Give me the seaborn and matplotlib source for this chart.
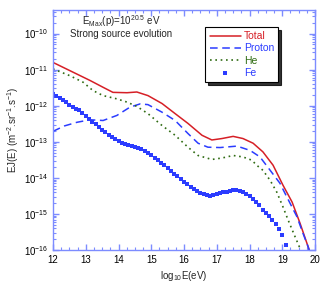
import numpy as np
import pandas as pd
import matplotlib
matplotlib.use("Agg")
import matplotlib.pyplot as plt
import seaborn as sns
from matplotlib.ticker import FixedLocator, MultipleLocator, NullFormatter

# values (log10 E, log10 flux)
total_x = [12.0, 12.52, 13.13, 13.53, 13.83, 14.26, 14.56, 14.9, 15.33, 15.73, 16.12, 16.55, 16.85,
           17.16, 17.5, 17.8, 18.11, 18.41, 18.72, 19.02, 19.3, 19.54, 19.79, 19.86]
total_y = [-10.8, -11.03, -11.3, -11.49, -11.63, -11.64, -11.62, -11.72, -11.94, -12.22, -12.49, -12.82, -12.95,
           -12.91, -12.85, -12.91, -13.04, -13.28, -13.65, -14.2, -14.67, -15.25, -15.91, -16.1]

proton_x = [12.0, 12.35, 12.73, 13.13, 13.53, 13.95, 14.35, 14.66, 14.9, 15.33, 15.73, 16.12, 16.43, 16.73,
            17.1, 17.62, 18.02, 18.32, 18.63, 18.93, 19.14, 19.45, 19.63, 19.79, 19.86]
proton_y = [-12.71, -12.56, -12.46, -12.39, -12.41, -12.27, -12.04, -11.95, -11.97, -12.18, -12.41, -12.77, -13.04, -13.15,
            -13.16, -13.12, -13.24, -13.42, -13.79, -14.15, -14.53, -15.08, -15.53, -15.91, -16.1]

he_x = [12.0, 12.52, 12.92, 13.22, 13.53, 13.95, 14.26, 14.56, 14.9, 15.33, 15.73, 16.12, 16.43, 16.85,
        17.16, 17.5, 17.8, 18.07, 18.22, 18.41, 18.63, 18.83, 19.02, 19.18, 19.39, 19.54, 19.58]
he_y = [-10.98, -11.17, -11.35, -11.58, -11.72, -11.81, -11.9, -12.02, -12.22, -12.55, -12.82, -13.15, -13.38, -13.49,
        -13.45, -13.38, -13.42, -13.51, -13.65, -13.79, -14.07, -14.39, -14.8, -15.17, -15.63, -15.95, -16.1]

fe_x = [12.0, 12.1, 12.2, 12.3, 12.4, 12.5, 12.6, 12.7, 12.8, 12.9, 13.0, 13.1, 13.2, 13.3, 13.4, 13.5,
        13.6, 13.7, 13.8, 13.9, 14.0, 14.1, 14.2, 14.3, 14.4, 14.5, 14.6, 14.7, 14.8, 14.9, 15.0, 15.1,
        15.2, 15.3, 15.4, 15.5, 15.6, 15.7, 15.8, 15.9, 16.0, 16.1, 16.2, 16.3, 16.4, 16.5, 16.6, 16.7,
        16.8, 16.9, 17.0, 17.1, 17.2, 17.3, 17.4, 17.5, 17.6, 17.7, 17.8, 17.9, 18.0, 18.1, 18.2, 18.3,
        18.4, 18.5, 18.6, 18.7, 18.8, 18.9, 19.0, 19.1]
fe_y = [-11.67, -11.73, -11.79, -11.85, -11.91, -11.97, -12.03, -12.08, -12.13, -12.2, -12.28, -12.36,
        -12.45, -12.52, -12.59, -12.66, -12.74, -12.8, -12.86, -12.92, -12.98, -13.03, -13.07, -13.1,
        -13.13, -13.15, -13.17, -13.2, -13.25, -13.31, -13.37, -13.44, -13.51, -13.58, -13.65, -13.72,
        -13.8, -13.88, -13.96, -14.04, -14.11, -14.18, -14.25, -14.32, -14.37, -14.42, -14.46, -14.48,
        -14.49, -14.48, -14.46, -14.43, -14.4, -14.38, -14.36, -14.35, -14.35, -14.36, -14.39, -14.44,
        -14.51, -14.59, -14.66, -14.76, -14.88, -14.98, -15.06, -15.16, -15.28, -15.42, -15.58, -15.85]

RED = "#d61f26"
BLUE = "#2b3cff"
GREEN = "#2f6b12"
AXBLUE = "#7d8cff"

sns.set_style("ticks")
plt.rcParams["font.family"] = ["Liberation Sans", "DejaVu Sans"]
plt.rcParams["mathtext.fontset"] = "custom"
plt.rcParams["mathtext.rm"] = "Liberation Sans"
plt.rcParams["mathtext.it"] = "Liberation Sans"

fig = plt.figure(figsize=(3.27, 2.92), dpi=100)
ax = fig.add_axes([53 / 327, 1 - 250 / 292, 262 / 327, 240 / 292])

sns.lineplot(x=total_x, y=10 ** np.array(total_y), color=RED, lw=1.1, ax=ax, label="Total")
sns.lineplot(x=proton_x, y=10 ** np.array(proton_y), color=BLUE, lw=1.1, ax=ax, label="Proton")
ax.lines[-1].set_dashes([5, 3])
sns.lineplot(x=he_x, y=10 ** np.array(he_y), color=GREEN, lw=1.2, ax=ax, label="He")
ax.lines[-1].set_linestyle((0, (1, 2.2)))
sns.scatterplot(x=fe_x, y=10 ** np.array(fe_y), color=BLUE, marker="s", s=11, linewidth=0,
                ax=ax, label="Fe")

ax.set_yscale("log")
ax.set_xlim(12, 20)
ax.set_ylim(1e-16, 4.5e-10)
ax.xaxis.set_major_locator(MultipleLocator(1))
ax.xaxis.set_minor_locator(MultipleLocator(0.25))
decades = np.arange(-16, -9)
ax.yaxis.set_major_locator(FixedLocator(10.0 ** decades))
minors = [m * 10.0 ** d for d in decades for m in range(2, 10) if m * 10.0 ** d < 4.5e-10]
ax.yaxis.set_minor_locator(FixedLocator(minors))
ax.yaxis.set_minor_formatter(NullFormatter())

for s in ax.spines.values():
    s.set_color(AXBLUE)
    s.set_linewidth(1.0)
ax.tick_params(which="both", direction="in", top=True, right=True, colors=AXBLUE,
               labelcolor="black", labelsize=7)
ax.tick_params(which="major", length=4, width=1)
ax.tick_params(which="minor", length=2, width=0.8)

ax.set_xlabel("log$_{10}$E(eV)", fontsize=7, labelpad=3)
ax.set_ylabel("EJ(E) (m$^{-2}$.sr$^{-1}$.s$^{-1}$)", fontsize=7, labelpad=2)

ax.text(0.11, 0.955, "E$_{Max}$(p)=10$^{20.5}$ eV", transform=ax.transAxes, fontsize=7, va="center")
ax.text(0.065, 0.9, "Strong source evolution", transform=ax.transAxes, fontsize=7, va="center")

leg = ax.legend(loc="upper right", bbox_to_anchor=(0.88, 0.95), fontsize=7.5, frameon=True,
                fancybox=False, shadow={"color": "black", "alpha": 0.8}, handlelength=3.0,
                handletextpad=0.3, borderpad=0.4, labelspacing=0.2, edgecolor="black")
leg.get_frame().set_linewidth(0.8)
for t, c in zip(leg.get_texts(), [RED, BLUE, GREEN, BLUE]):
    t.set_color(c)

fig.savefig("out.png", dpi=100)
